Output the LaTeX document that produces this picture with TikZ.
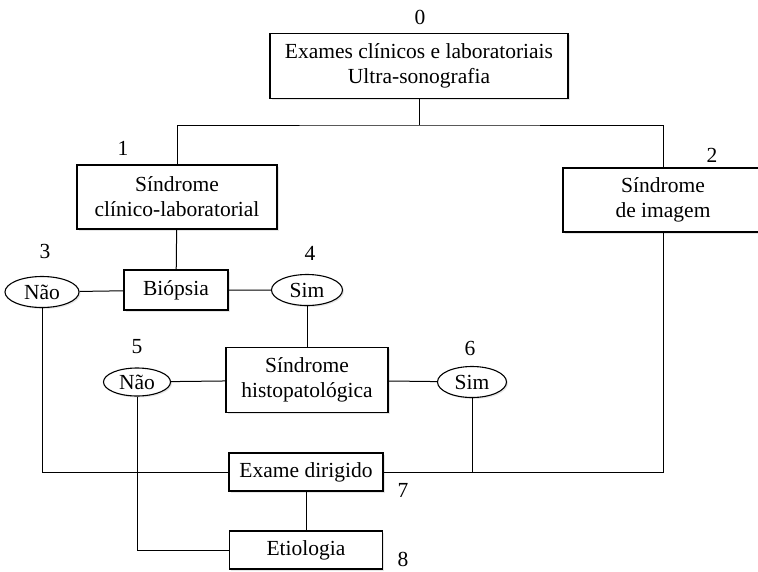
\documentclass[tikz,border=0pt]{standalone}
\usepackage{fontspec}
\setmainfont{Liberation Serif}
\usepackage{tikz}
\usetikzlibrary{shapes.geometric}
\usetikzlibrary{shadows}

\begin{document}
\begin{tikzpicture}[x=1pt,y=-1pt,font=\fontsize{21.5}{25}\selectfont,
  box/.style={draw,line width=1.1pt,fill=white,align=center,inner sep=0pt,
    drop shadow={shadow xshift=1.5pt,shadow yshift=-1.5pt,opacity=.2}},
  oval/.style={draw,ellipse,line width=1.1pt,fill=white,inner sep=0pt,
    drop shadow={shadow xshift=1.5pt,shadow yshift=-1.5pt,opacity=.2}},
  num/.style={inner sep=0pt},
  every path/.style={line width=1pt}]
\useasboundingbox (0,0) rectangle (758,571);
\node[box,minimum width=298,minimum height=65] (exames) at (419,66) {Exames clínicos e laboratoriais\\Ultra-sonografia};
\node[box,minimum width=200,minimum height=64] (clinico) at (177,197) {Síndrome\\clínico-laboratorial};
\node[box,minimum width=200,minimum height=64] (imagem) at (663,200) {Síndrome\\de imagem};
\node[box,minimum width=104,minimum height=40] (biopsia) at (176,290) {Biópsia};
\node[oval,minimum width=74,minimum height=31] (nao1) at (42,292) {Não};
\node[oval,minimum width=71,minimum height=31] (sim1) at (307,290) {Sim};
\node[box,minimum width=162,minimum height=65] (histo) at (307,380) {Síndrome\\histopatológica};
\node[oval,minimum width=67,minimum height=28] (nao2) at (137,382) {Não};
\node[oval,minimum width=69,minimum height=31] (sim2) at (472,382) {Sim};
\node[box,minimum width=154,minimum height=38] (exame) at (306,472) {Exame dirigido};
\node[box,minimum width=153,minimum height=38] (etiologia) at (306,550) {Etiologia};
% numbers
\node[num] (n0) at (420,17) {0};
\node[num] (n1) at (123,148) {1};
\node[num] (n2) at (712,155) {2};
\node[num] (n3) at (45,251) {3};
\node[num] (n4) at (310,253) {4};
\node[num] (n5) at (137,347) {5};
\node[num] (n6) at (470,348) {6};
\node[num] (n7) at (403,490) {7};
\node[num] (n8) at (403,559) {8};
% connectors
\coordinate (split) at (419,125);
\draw (exames.south) -- (split);
\draw (clinico.north) |- (split) -| (imagem.north);
\draw (clinico) -- (biopsia);
\draw (nao1) -- (biopsia) -- (sim1);
\draw (sim1) -- (histo);
\draw (nao2) -- (histo) -- (sim2);
\draw (nao1.south) |- (exame.west);
\draw (nao2.south) |- (etiologia.west);
\draw (exame) -- (etiologia);
\draw (imagem.south) |- (exame.east);
\draw (sim2.south) -- (sim2.south |- exame.east);
\end{tikzpicture}
\end{document}
